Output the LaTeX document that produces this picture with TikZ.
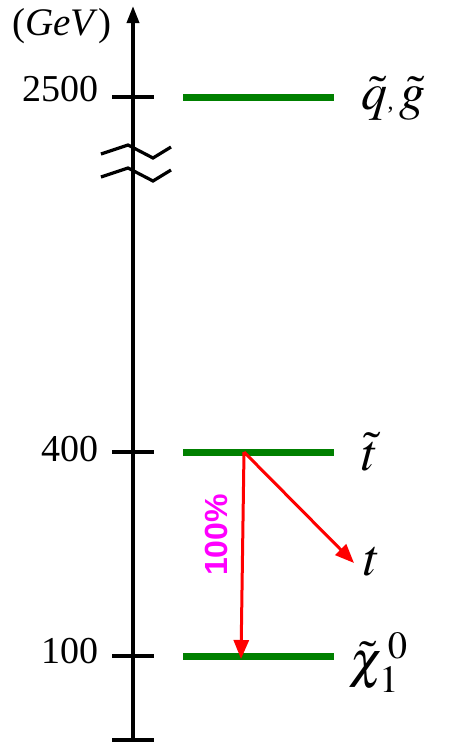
\documentclass[tikz,border=0pt]{standalone}
\usepackage{mathptmx}
\usepackage{fontspec}
\setmainfont{Liberation Serif}
\setsansfont{Liberation Sans}
\usepackage{tikz}
\usetikzlibrary{arrows.meta,positioning}
\definecolor{levelgreen}{RGB}{0,128,0}
\definecolor{brmagenta}{RGB}{255,0,255}

\begin{document}
\begin{tikzpicture}[x=1pt,y=-1pt,
			level node/.style={rectangle, fill=levelgreen, inner sep=0pt, minimum width=151pt, minimum height=7pt},
			tick node/.style={line width=3.2pt, black},
			mass node/.style={anchor=base east, text=black, font=\fontsize{38}{38}\selectfont},
			particle node/.style={anchor=base west, text=black, font=\fontsize{52}{52}\selectfont},
			decay arrow/.style={-{Triangle[length=19pt,width=15pt]}, red, line width=3pt}]
			\useasboundingbox (0,0) rectangle (448,742);
			
			% axis
			\coordinate (bot) at (133,740);
			\coordinate (top) at (133,6);
			\draw[line width=3.6pt,-{Triangle[length=17pt,width=12pt]}] (bot) -- (top);
			\draw[tick node] (112,740) -- (154,740);
			\node[anchor=west,font=\fontsize{39}{39}\selectfont] (unit) at (9,26) {(\textit{GeV})};
			
			% mass ticks
			\draw[tick node] (112,97) -- (154,97);
			\draw[tick node] (112,452) -- (154,452);
			\draw[tick node] (112,656) -- (154,656);
			\node[mass node] (m1) at (102,101) {2500};
			\node[mass node] (m2) at (102,461) {400};
			\node[mass node] (m3) at (102,663) {100};
			
			% axis break
			\draw[line width=3.2pt] (101,154) -- (128,145) -- (153,158) -- (171,147);
			\draw[line width=3.2pt] (101,177) -- (128,168) -- (153,181) -- (171,170);
			
			% levels
			\node[level node] (sq) at (258,97) {};
			\node[level node] (st) at (258,452) {};
			\node[level node] (chi) at (258,656) {};
			\node[particle node] (l1) at (358,109) {$\tilde{q}\hbox{\fontsize{24}{24}\selectfont ,}\,\tilde{g}$};
			\node[particle node] (l2) at (358,470) {$\tilde{t}$};
			\node[particle node] (l3) at (346,677) {$\tilde{\chi}^{\,0}_1$};
			
			% decays
			\coordinate (dec) at (244,452);
			\coordinate (tend) at (354,563);
			\coordinate (chiend) at (241,659);
			\node[particle node] (t) at (360,575) {$t$};
			\draw[decay arrow] (dec) -- (tend);
			\draw[decay arrow] (dec) -- (chiend);
			\node[rotate=90, text=brmagenta, font=\sffamily\bfseries\fontsize{32}{32}\selectfont] (br) at (216,535) {100\%};
			
		\end{tikzpicture}
\end{document}
